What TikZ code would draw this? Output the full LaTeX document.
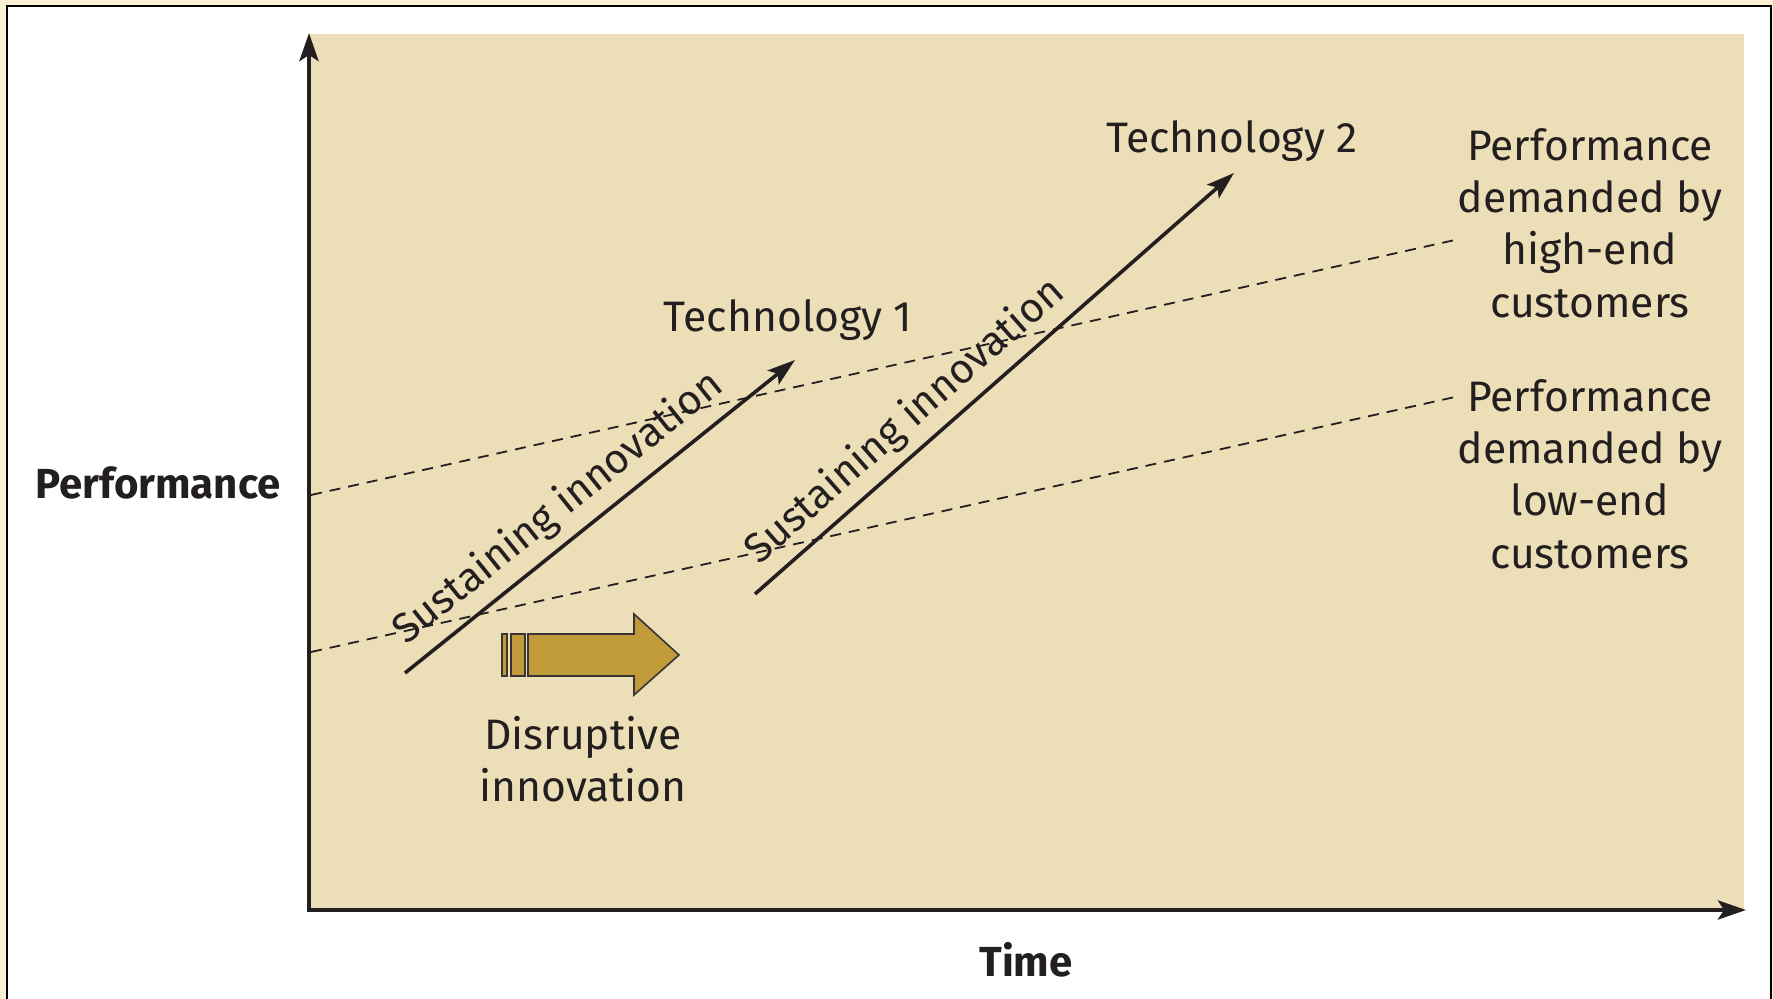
\documentclass[tikz,border=0pt]{standalone}
\usepackage{fontspec}
\setmainfont{Fira Sans}
\usetikzlibrary{arrows.meta}
\definecolor{framecream}{HTML}{FAF0D3}
\definecolor{plottan}{HTML}{ECDFB7}
\definecolor{ink}{HTML}{231F20}
\definecolor{gold}{HTML}{C19A3A}
\tikzset{
  axisline/.style={draw=ink, line width=2.2pt, {Stealth[length=14pt,width=9.5pt,inset=3pt]}-{Stealth[length=14pt,width=9.5pt,inset=3pt]}},
  techarrow/.style={draw=ink, line width=1.8pt, -{Stealth[length=14pt,width=9pt,inset=3pt]}},
  demandline/.style={draw=ink, line width=0.9pt, dash pattern=on 5.5pt off 4pt},
  lbl/.style={text=ink, font=\fontsize{21.3}{26.2}\selectfont, inner sep=0pt},
  slopelbl/.style={lbl, font=\fontsize{20.7}{26}\selectfont},
  axlbl/.style={lbl, font=\fontsize{21}{26}\selectfont\bfseries},
  block/.style={lbl, align=center},
  goldshape/.style={draw=ink!90, fill=gold, line width=0.8pt, line join=miter}
}
\begin{document}
\begin{tikzpicture}[x=0.5pt,y=-0.5pt]
  % page frame
  \fill[framecream] (0,0) rectangle (1773,999);
  \useasboundingbox (0,0) rectangle (1773,999);
  \clip (0,0) rectangle (1773,999);
  \draw[fill=white, line width=0.9pt] (7,6) rectangle (1771,1020);

  % plot area
  \fill[plottan] (310,34) rectangle (1744,910);

  % axes
  \coordinate (ytop) at (309,33);
  \coordinate (xend) at (1746,910);
  \draw[axisline] (ytop) |- (xend);

  % demand trajectories
  \coordinate (hiA) at (311,495);
  \coordinate (hiB) at (1455,240);
  \coordinate (loA) at (311,652);
  \coordinate (loB) at (1455,397);
  \draw[demandline] (hiA) -- (hiB);
  \draw[demandline] (loA) -- (loB);

  % technology trajectories
  \coordinate (t1A) at (405,673);
  \coordinate (t1B) at (795,360);
  \coordinate (t2A) at (755,594);
  \coordinate (t2B) at (1234,173);
  \draw[techarrow] (t1A) -- node[slopelbl, pos=0.445, sloped, above=5pt] (sust1) {Sustaining innovation} (t1B);
  \draw[techarrow] (t2A) -- node[slopelbl, pos=0.355, sloped, above=4pt] (sust2) {Sustaining innovation} (t2B);

  % disruptive innovation arrow
  \draw[goldshape] (502,634) rectangle (507,676);
  \draw[goldshape] (511,634) rectangle (525,676);
  \draw[goldshape] (528,634) -- (634,634) -- (634,614) -- (679,655)
    -- (634,695) -- (634,676) -- (528,676) -- cycle;

  % labels
  \node[axlbl] (perf) at (158,483) {Performance};
  \node[axlbl] (time) at (1026,960) {Time};
  \node[lbl] (tech1) at (788,320) {Technology 1};
  \node[lbl] (tech2) at (1232,141) {Technology 2};
  \node[block] (hiend) at (1590,223) {Performance\\demanded by\\high-end\\customers};
  \node[block] (loend) at (1590,474) {Performance\\demanded by\\low-end\\customers};
  \node[block] (disr) at (583,759) {Disruptive\\innovation};
\end{tikzpicture}
\end{document}
